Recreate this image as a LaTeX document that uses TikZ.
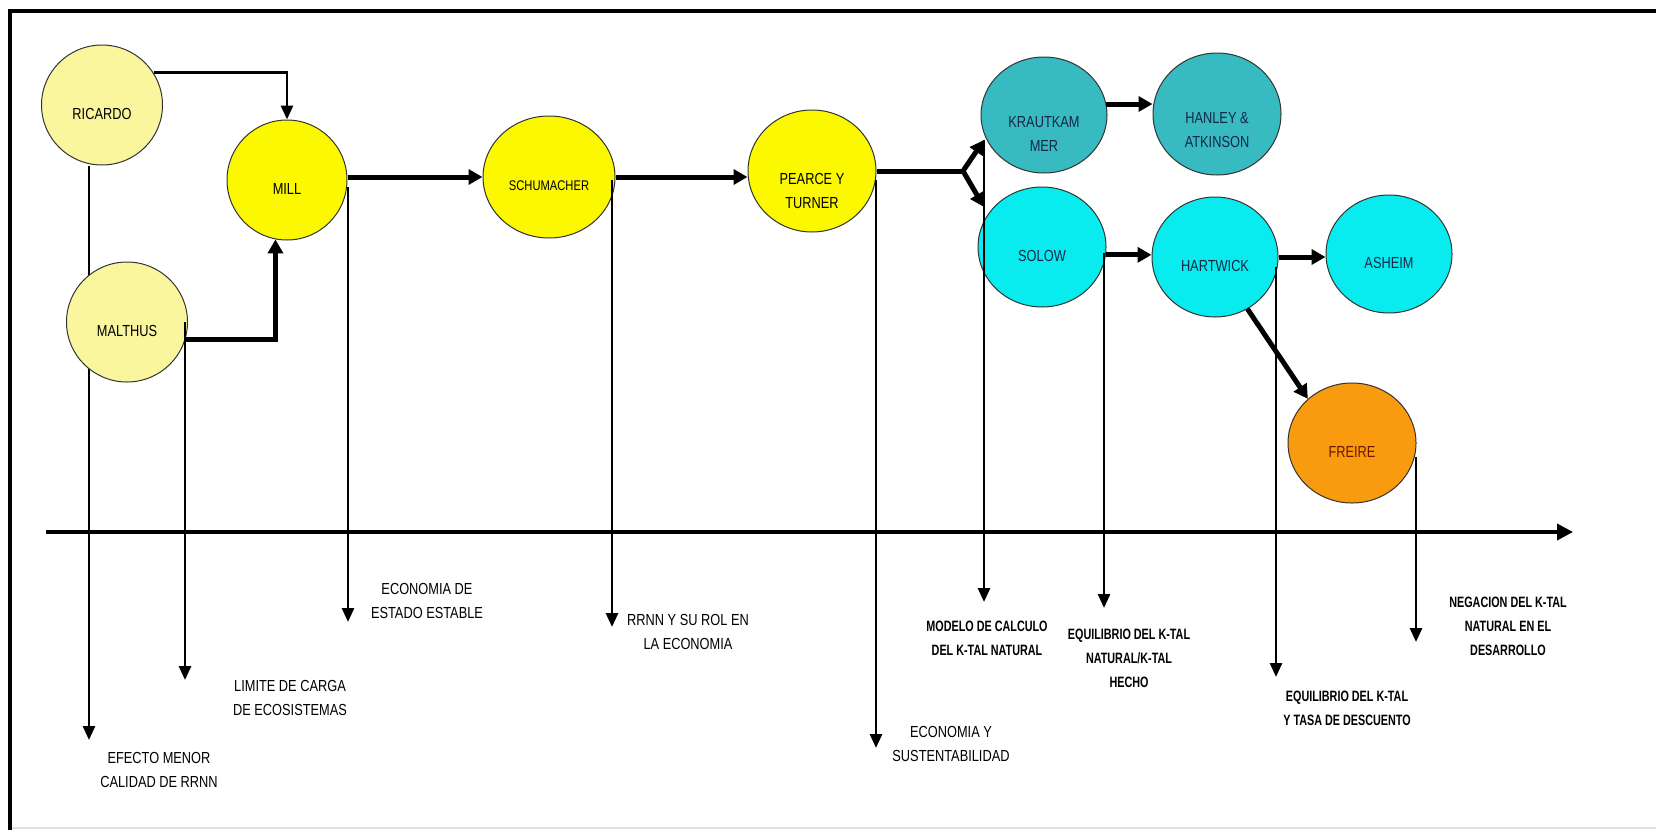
\documentclass[tikz,border=0pt]{standalone}
\usepackage{fontspec}
\setmainfont{Liberation Sans}
\newfontfamily\namefont[FakeStretch=0.8]{Liberation Sans}
\newfontfamily\ktalfont[FakeStretch=0.72]{Liberation Sans}
\usetikzlibrary{arrows.meta,shapes.geometric,backgrounds}

\definecolor{paleyellow}{RGB}{250,246,158}
\definecolor{brightyellow}{RGB}{252,248,0}
\definecolor{tealblue}{RGB}{55,186,192}
\definecolor{cyanblue}{RGB}{8,236,240}
\definecolor{freireorange}{RGB}{248,155,15}
\definecolor{navytext}{RGB}{20,40,70}
\definecolor{redtext}{RGB}{110,20,0}

\begin{document}
\begin{tikzpicture}[x=1pt,y=-1pt,
    autor/.style={ellipse,draw=black!80,line width=1pt,minimum width=126pt,minimum height=120pt,inner sep=0pt},
    nombre/.style={align=center,yshift=-9pt,font=\namefont\fontsize{16}{24}\selectfont},
    nota/.style={align=center,font=\namefont\fontsize{16}{23.5}\selectfont},
    notak/.style={align=center,font=\ktalfont\bfseries\fontsize{15}{24}\selectfont},
    flujo/.style={line width=5pt,-{Triangle[length=14pt,width=15pt]}},
    fino/.style={line width=2.8pt,-{Triangle[length=14pt,width=12pt]}}]
\useasboundingbox (0,0) rectangle (1656,830);

% marco
\draw[black!12,line width=1.5pt] (10,828) -- (1656,828);
\draw[line width=4.5pt] (10,830) -- (10,11) -- (1656,11);

% autores
\node[autor,fill=paleyellow,minimum width=121pt,label={[nombre]center:RICARDO}] (ricardo) at (102,105) {};
\node[autor,fill=paleyellow,minimum width=121pt,label={[nombre]center:MALTHUS}] (malthus) at (127,322) {};
\node[autor,fill=brightyellow,minimum width=120pt,label={[nombre]center:MILL}] (mill) at (287,180) {};
\node[autor,fill=brightyellow,minimum width=132pt,minimum height=122pt,label={[nombre,font=\namefont\fontsize{14}{20}\selectfont]center:SCHUMACHER}] (schumacher) at (549,177) {};
\node[autor,fill=brightyellow,minimum width=128pt,minimum height=122pt,label={[nombre,yshift=-11pt]center:{PEARCE Y\\TURNER}}] (pearce) at (812,171) {};
\node[autor,fill=tealblue,minimum height=116pt,label={[nombre,yshift=-10pt,text=navytext]center:{KRAUTKAM\\MER}}] (kraut) at (1044,115) {};
\node[autor,fill=tealblue,minimum width=128pt,minimum height=122pt,label={[nombre,yshift=-7pt,text=navytext]center:{HANLEY \&\\ATKINSON}}] (hanley) at (1217,114) {};
\node[autor,fill=cyanblue,minimum width=128pt,label={[nombre,text=navytext]center:SOLOW}] (solow) at (1042,247) {};
\node[autor,fill=cyanblue,label={[nombre,text=navytext]center:HARTWICK}] (hartwick) at (1215,257) {};
\node[autor,fill=cyanblue,minimum height=118pt,label={[nombre,text=navytext]center:ASHEIM}] (asheim) at (1389,254) {};
\node[autor,fill=freireorange,minimum width=128pt,label={[nombre,text=redtext]center:FREIRE}] (freire) at (1352,443) {};

% puntos libres
\coordinate (ejeL) at (46,532);
\coordinate (ejeR) at (1573,532);
\coordinate (fork) at (963,171);
\coordinate (forkup) at (984,140);
\coordinate (forkdn) at (984,207);
\coordinate (tipA) at (89,740);
\coordinate (tipB) at (185,680);
\coordinate (tipC) at (348,622);
\coordinate (tipD) at (612,627);
\coordinate (tipE) at (876,748);
\coordinate (tipF) at (984,602);
\coordinate (tipG) at (1104,608);
\coordinate (tipH) at (1276,677);
\coordinate (tipI) at (1416,642);

% eje del tiempo
\draw[line width=3.8pt,-{Triangle[length=16pt,width=16pt]}] (ejeL) -- (ejeR);

% influencias
\draw[fino] (ricardo.32) -| (mill.north);
\draw[flujo] (malthus.-17) -| (mill.259);
\draw[flujo] (mill.east |- schumacher.west) -- (schumacher.west);
\draw[flujo] (schumacher.east) -- (schumacher.east -| pearce.west);
\draw[line width=5pt] (pearce.east) -- (fork);
\draw[flujo] (fork) -- (forkup);
\draw[flujo] (fork) -- (forkdn);
\draw[flujo] (kraut.10) -- (kraut.10 -| hanley.west);
\draw[flujo] (solow.-7) -- (solow.-7 -| hartwick.west);
\draw[flujo] (hartwick.east) -- (hartwick.east -| asheim.west);
\draw[flujo] (hartwick.-58) -- (freire.135);

% aportes
\begin{scope}[on background layer]
\draw[fino] (tipA |- ricardo.south) -- (tipA);
\end{scope}
\draw[fino] (tipB |- malthus.east) -- (tipB);
\draw[fino] (tipC |- mill.-7) -- (tipC);
\draw[fino] (tipD |- schumacher.-3) -- (tipD);
\draw[fino] (tipE |- pearce.-8) -- (tipE);
\draw[fino] (forkup) -- (tipF);
\draw[fino] (tipG |- solow.-5) -- (tipG);
\draw[fino] (tipH |- hartwick.-9) -- (tipH);
\draw[fino] (tipI |- freire.-13) -- (tipI);

\node[nota] (efecto) at (159,770) {EFECTO MENOR\\CALIDAD DE RRNN};
\node[nota] (limite) at (290,698) {LIMITE DE CARGA\\DE ECOSISTEMAS};
\node[nota] (estable) at (427,601) {ECONOMIA DE\\ESTADO ESTABLE};
\node[nota] (rolrrnn) at (688,632) {RRNN Y SU ROL EN\\LA ECONOMIA};
\node[nota] (sustent) at (951,744) {ECONOMIA Y\\SUSTENTABILIDAD};
\node[notak] (modelo) at (987,638) {MODELO DE CALCULO\\DEL K-TAL NATURAL};
\node[notak] (equil) at (1129,658) {EQUILIBRIO DEL K-TAL\\NATURAL/K-TAL\\HECHO};
\node[notak] (tasa) at (1347,708) {EQUILIBRIO DEL K-TAL\\Y TASA DE DESCUENTO};
\node[notak] (negacion) at (1508,626) {NEGACION DEL K-TAL\\NATURAL EN EL\\DESARROLLO};
\end{tikzpicture}
\end{document}
